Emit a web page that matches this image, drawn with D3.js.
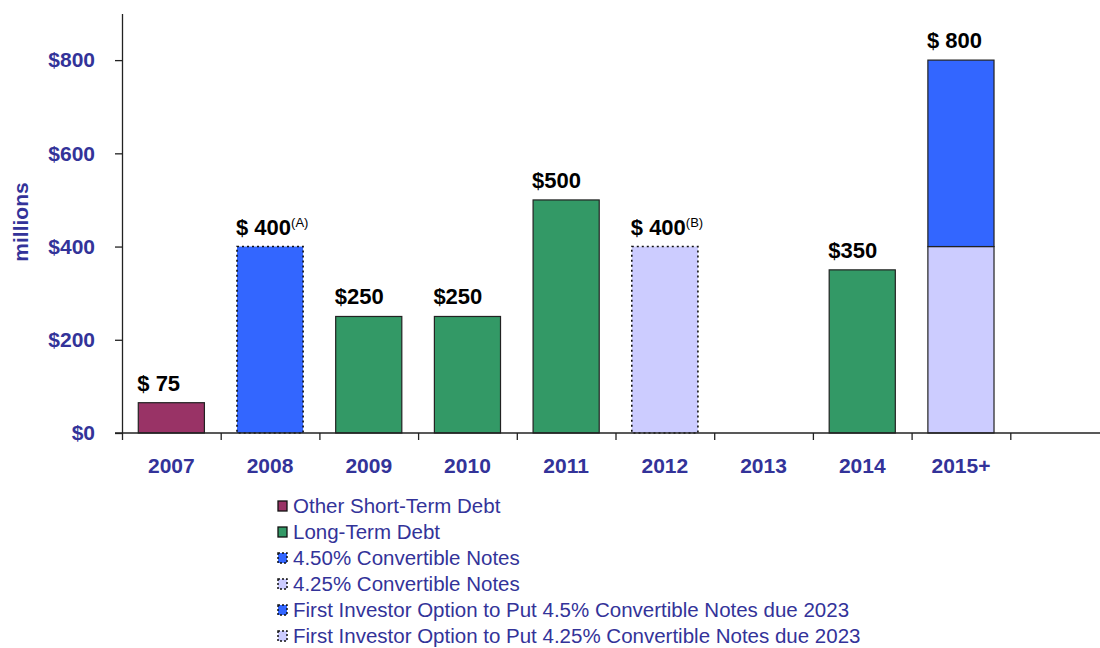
<!DOCTYPE html>
<html>
<head>
<meta charset="utf-8">
<script src="https://cdn.jsdelivr.net/npm/d3@7"></script>
<style>
  body { margin: 0; background: #fff; }
  svg { display: block; font-family: "Liberation Sans", Arial, sans-serif; }
</style>
</head>
<body>
<svg id="chart" width="1100" height="648"></svg>
<script>
// maturities by year, $ millions
const categories = ["2007", "2008", "2009", "2010", "2011", "2012", "2013", "2014", "2015+", ""];
const shortTermDebt = [65, 0, 0, 0, 0, 0, 0, 0, 0, 0];
const longTermDebt = [0, 0, 250, 250, 500, 0, 0, 350, 0, 0];
const conv450 = [0, 400, 0, 0, 0, 0, 0, 0, 0, 0];
const conv425 = [0, 0, 0, 0, 0, 400, 0, 0, 0, 0];
const put450 = [0, 0, 0, 0, 0, 0, 0, 0, 400, 0];
const put425 = [0, 0, 0, 0, 0, 0, 0, 0, 400, 0];

const barLabels = ["$ 75", "$ 400", "$250", "$250", "$500", "$ 400", "", "$350", "$ 800", ""];
const labelNotes = ["", "(A)", "", "", "", "(B)", "", "", "", ""];
const yTicks = [0, 200, 400, 600, 800];

// stack order bottom -> top
const series = [
    {key: "short", name: "Other Short-Term Debt", values: shortTermDebt, color: "#993366", dotted: false},
    {key: "long", name: "Long-Term Debt", values: longTermDebt, color: "#339966", dotted: false},
    {key: "c450", name: "4.50% Convertible Notes", values: conv450, color: "#3366FF", dotted: true},
    {key: "c425", name: "4.25% Convertible Notes", values: conv425, color: "#CCCCFF", dotted: true},
    {key: "p425", name: "First Investor Option to Put 4.25% Convertible Notes due 2023", values: put425, color: "#CCCCFF", dotted: false},
    {key: "p450", name: "First Investor Option to Put 4.5% Convertible Notes due 2023", values: put450, color: "#3366FF", dotted: false}
];
const legendOrder = ["short", "long", "c450", "c425", "p450", "p425"];

const navy = "#333399";
const svg = d3.select("#chart");

const x0 = 122, x1 = 1109;
const x = d3.scaleBand()
    .domain(categories)
    .range([x0, x1])
    .paddingInner(0.33)
    .paddingOuter(0.165);

const y = d3.scaleLinear()
    .domain([0, 900])
    .range([433, 13.5]);

// table for the stack
const table = categories.map(function (c, i) {
    let row = {cat: c};
    series.forEach(function (s) { row[s.key] = s.values[i]; });
    return row;
});
const stacked = d3.stack().keys(series.map(s => s.key))(table);

// bars
stacked.forEach(function (layer, li) {
    const s = series[li];
    svg.append("g")
        .selectAll("rect")
        .data(layer.filter(d => d[1] - d[0] > 0))
        .enter()
        .append("rect")
        .attr("x", d => x(d.data.cat))
        .attr("y", d => y(d[1]))
        .attr("width", x.bandwidth())
        .attr("height", d => y(d[0]) - y(d[1]))
        .attr("fill", s.color)
        .attr("stroke", s.dotted ? "#111" : "#222")
        .attr("stroke-width", s.dotted ? 1.6 : 1.2)
        .attr("stroke-dasharray", s.dotted ? "2,3" : null);
});

// y axis
const yAxis = svg.append("g")
    .attr("transform", "translate(" + x0 + ",0)")
    .call(d3.axisLeft(y).tickValues(yTicks).tickSize(7).tickSizeOuter(0).tickPadding(20)
        .tickFormat(d => "$" + d));
yAxis.select(".domain").attr("stroke", "#222").attr("stroke-width", 1.3);
yAxis.selectAll(".tick line").attr("stroke", "#222").attr("stroke-width", 1.3);
yAxis.selectAll("text")
    .attr("fill", navy)
    .style("font-size", "21px")
    .style("font-weight", "bold")
    .style("font-family", "'Liberation Sans', Arial, sans-serif");

// x axis: boundary ticks
const bounds = d3.scaleLinear().domain([0, categories.length]).range([x0, x1]);
const xTicks = svg.append("g")
    .attr("transform", "translate(0," + y(0) + ")")
    .call(d3.axisBottom(bounds).tickValues(d3.range(0, categories.length)).tickSize(7).tickSizeOuter(0).tickFormat(""));
xTicks.select(".domain").attr("d", "M115,0H1100").attr("stroke", "#222").attr("stroke-width", 1.3);
xTicks.selectAll(".tick line").attr("stroke", "#222").attr("stroke-width", 1.3);

// x axis: category labels
const xLabels = svg.append("g")
    .attr("transform", "translate(0," + y(0) + ")")
    .call(d3.axisBottom(x).tickSize(0).tickPadding(25));
xLabels.select(".domain").remove();
xLabels.selectAll("text")
    .attr("fill", navy)
    .style("font-size", "21px")
    .style("font-weight", "bold")
    .style("font-family", "'Liberation Sans', Arial, sans-serif");

// y title
svg.append("text")
    .attr("transform", "translate(28,222) rotate(-90)")
    .attr("text-anchor", "middle")
    .attr("fill", navy)
    .style("font-size", "21px")
    .style("font-weight", "bold")
    .text("millions");

// value labels above bars
const totals = categories.map((c, i) => d3.sum(series, s => s.values[i]));
const lbl = svg.append("g")
    .selectAll("text")
    .data(categories.map((c, i) => ({cat: c, total: totals[i], text: barLabels[i], note: labelNotes[i]})).filter(d => d.text))
    .enter()
    .append("text")
    .attr("x", d => x(d.cat) - 1)
    .attr("y", d => y(d.total) - 12)
    .attr("fill", "#000")
    .style("font-size", "22px")
    .style("font-weight", "bold");
lbl.append("tspan").text(d => d.text);
lbl.filter(d => d.note)
    .append("tspan")
    .attr("dy", -8)
    .style("font-size", "13px")
    .style("font-weight", "normal")
    .text(d => d.note);

// legend
const legend = svg.append("g").attr("transform", "translate(278,506)");
const legendItems = legendOrder.map(k => series.find(s => s.key === k));
const item = legend.selectAll("g")
    .data(legendItems)
    .enter()
    .append("g")
    .attr("transform", (d, i) => "translate(0," + i * 26 + ")");
item.append("rect")
    .attr("x", 0)
    .attr("y", -5)
    .attr("width", 9)
    .attr("height", 10)
    .attr("fill", d => d.color)
    .attr("stroke", "#111")
    .attr("stroke-width", d => d.key === "short" || d.key === "long" ? 1.3 : 1.5)
    .attr("stroke-dasharray", d => d.key === "short" || d.key === "long" ? null : "2,2");
item.append("text")
    .attr("x", 15)
    .attr("y", 0)
    .attr("dy", "0.36em")
    .attr("fill", navy)
    .style("font-size", "20.5px")
    .text(d => d.name);
</script>
</body>
</html>
